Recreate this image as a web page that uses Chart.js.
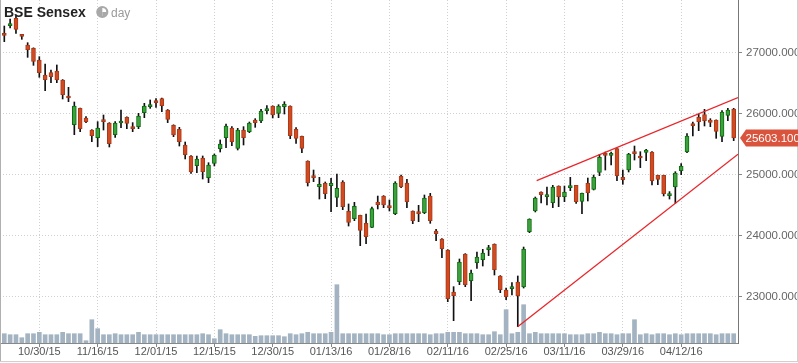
<!DOCTYPE html>
<html><head><meta charset="utf-8">
<script src="https://cdn.jsdelivr.net/npm/chart.js@4.4.1/dist/chart.umd.min.js"></script>
<style>html,body{margin:0;padding:0;background:#fff;overflow:hidden}canvas{display:block}</style>
</head><body>
<canvas id="c" width="798" height="363"></canvas>
<script>
const titleText = 'BSE Sensex';
const periodText = 'day';
const opens = [27306,27443,27563,27290,27126,27072,26881,26635,26673,26700,26553,26291,25822,26089,25931,25734,25609,25904,25849,25658,
25849,25942,25789,25789,26018,26116,26209,26247,26062,25811,25745,25489,25309,25150,25276,24954,25188,25429,25609,25767,
25434,25734,25707,25898,25882,26051,26127,26007,26116,26127,25745,25631,25227,24981,24806,24861,24823,24632,24883,24403,
24282,24337,24206,24141,24555,24653,24490,24364,24981,24866,24408,24397,24381,24653,24080,23949,23769,23082,23251,23704,
23267,23562,23611,23775,23862,23344,23114,23136,23245,23164,24070,24408,24719,24643,24544,24817,24643,24790,24828,24566,
24861,24763,25041,25347,25319,25429,24959,25079,25374,25303,25369,25374,24992,24992,24659,24801,25068,25374,25838,25942,
25985,25898,25898,25631,25974,26078];
const highs = [27437,27552,27601,27300,27164,27080,26935,26815,26717,26799,26560,26433,26193,26095,25953,25740,25871,25980,25855,25871,
26062,25950,25855,26007,26171,26226,26247,26258,26070,25820,25778,25538,25315,25309,25309,25199,25341,25571,25832,25789,
25762,25789,25865,25920,26073,26133,26130,26149,26198,26130,25772,25635,25230,25079,24959,24883,24943,25014,24905,24523,
24550,24340,24359,24473,24653,24660,24588,24888,24997,24926,24410,24501,24670,24697,24108,23955,23775,23169,23622,23710,
23442,23737,23780,23846,23870,23350,23147,23235,23344,23818,24280,24637,24720,24801,24828,24820,24817,24959,24830,24700,
24948,24997,25336,25374,25374,25432,25079,25352,25472,25379,25418,25380,24995,24995,24725,25052,25183,25674,25865,25996,
26073,25920,25900,26051,26089,26089];
const lows = [27181,27405,27317,27219,26924,26793,26597,26378,26509,26509,26242,26198,25658,25707,25855,25543,25462,25734,25456,25614,
25773,25756,25707,25756,25936,26089,26105,26035,25855,25625,25472,25260,25025,25036,24932,24872,25145,25374,25445,25478,
25407,25489,25691,25778,25854,25996,25931,25936,25996,25592,25516,25363,24817,24888,24604,24610,24397,24479,24430,24162,
24250,23840,23873,24135,24441,24462,24408,24348,24790,24462,24200,24233,24364,24206,23922,23644,22923,22612,23202,23169,
22940,23469,23507,23677,23360,23071,22956,23032,22514,23147,24053,24392,24539,24506,24463,24479,24561,24741,24534,24364,
24572,24752,24986,25079,25161,24905,24845,25047,25243,25118,25232,24834,24839,24654,24604,24534,25003,25363,25636,25723,
25800,25789,25598,25543,25887,25560];
const closes = [27285,27470,27383,27268,27050,26859,26673,26559,26608,26553,26313,26258,26127,25756,25871,25642,25767,25871,25511,25849,
25882,25844,25756,25964,26127,26144,26182,26133,25909,25653,25543,25331,25047,25259,25052,25161,25319,25505,25800,25543,
25734,25609,25849,25854,26045,26078,25980,26127,26155,25641,25598,25434,24872,24954,24844,24692,24861,24779,24479,24222,
24484,24091,23988,24446,24512,24506,24462,24866,24801,24561,24250,24364,24621,24250,24037,23791,22972,23022,23573,23202,
23393,23655,23720,23802,23447,23120,23005,23164,23022,23786,24277,24621,24675,24670,24801,24643,24719,24817,24561,24697,
24708,24959,25287,25319,25347,24986,24921,25341,25347,25276,25407,24905,24926,24692,24686,25030,25145,25636,25805,25871,
25887,25860,25712,26029,26062,25603.1];
const volumes = [93,83,83,53,93,93,107,83,83,83,107,93,93,93,23,233,143,83,83,93,
83,83,83,107,83,83,83,83,83,83,83,83,83,83,93,83,43,133,93,83,
83,83,83,67,73,73,73,73,63,93,83,93,107,93,93,93,107,583,93,93,
93,93,93,93,93,83,83,93,93,93,93,93,93,83,93,93,107,107,107,93,
93,93,83,83,113,83,333,93,107,383,93,107,93,93,93,93,93,83,83,83,
93,93,107,93,93,83,93,93,233,83,93,83,93,93,83,93,83,93,93,93,
93,93,83,93,93,93];
const tickIndex = [6,16,26,36,46,56,66,76,86,96,106,116];
const tickLabels = ['10/30/15','11/16/15','12/01/15','12/15/15','12/30/15','01/13/16','01/28/16','02/11/16','02/25/16','03/11/16','03/29/16','04/12/16'];
const priceTicks = [23000,24000,25000,26000,27000];
const upperTrend = [[91.24,24905],[125.74,26266]];
const lowerTrend = [[87.98,22514],[125.74,25337]];
const lastClose = 25603.1;

const FONT = 'Arial, "Liberation Sans", sans-serif';
const GREEN_FILL = '#3ca23c', GREEN_LINE = '#0d6b10', RED_FILL = '#d24b20', RED_LINE = '#a8391a';
const idx = opens.map((_, i) => i);
const isUp = i => closes[i] >= opens[i];

const overlay = {
  id: 'overlay',
  afterDraw(chart) {
    const c = chart.ctx;
    c.save();
    c.lineWidth = 1;
    c.strokeStyle = '#b0b0b0';
    c.beginPath(); c.moveTo(0.5, 0); c.lineTo(0.5, 362); c.stroke();
    c.strokeStyle = '#d0d0d0';
    c.beginPath(); c.moveTo(0, 361.5); c.lineTo(798, 361.5); c.moveTo(797.5, 0); c.lineTo(797.5, 362); c.stroke();
    c.fillStyle = '#222';
    c.font = 'bold 14px ' + FONT;
    c.textAlign = 'left'; c.textBaseline = 'alphabetic';
    c.fillText(titleText, 4, 17);
    c.strokeStyle = '#a8a8a8'; c.lineWidth = 2.2;
    c.beginPath(); c.arc(102.3, 12, 5, 0, Math.PI * 2); c.stroke();
    c.fillStyle = '#a8a8a8';
    c.beginPath(); c.moveTo(102.3, 12); c.arc(102.3, 12, 4.5, Math.PI / 2, -Math.PI / 2 + 0.0, false); c.closePath(); c.fill();
    c.beginPath(); c.moveTo(102.3, 12); c.arc(102.3, 12, 4.5, 0, Math.PI / 2, false); c.closePath(); c.fill();
    c.fillStyle = '#9a9a9a';
    c.font = '12px ' + FONT;
    c.fillText(periodText, 111, 17);
    const y = chart.scales.y.getPixelForValue(lastClose);
    c.fillStyle = '#d9533d';
    c.beginPath();
    c.moveTo(740, y); c.lineTo(746, y - 8.5); c.lineTo(798, y - 8.5); c.lineTo(798, y + 8.5); c.lineTo(746, y + 8.5);
    c.closePath(); c.fill();
    c.fillStyle = '#fff';
    c.font = '11.5px ' + FONT;
    c.textBaseline = 'middle';
    c.fillText(lastClose.toFixed(3), 745.5, y + 0.5);
    c.restore();
  }
};

new Chart(document.getElementById('c'), {
  type: 'bar',
  data: {
    datasets: [
      { type: 'line', data: upperTrend.map(p => ({x: p[0], y: p[1]})), yAxisID: 'y', borderColor: '#e8262b', borderWidth: 1.3, pointRadius: 0, order: 0 },
      { type: 'line', data: lowerTrend.map(p => ({x: p[0], y: p[1]})), yAxisID: 'y', borderColor: '#e8262b', borderWidth: 1.3, pointRadius: 0, order: 0 },
      { data: idx.map(i => ({x: i, y: [opens[i], closes[i]]})), yAxisID: 'y', grouped: false, barThickness: 4, minBarLength: 2,
        borderWidth: 1, borderSkipped: false,
        backgroundColor: ctx => isUp(ctx.dataIndex) ? GREEN_FILL : RED_FILL,
        borderColor: ctx => isUp(ctx.dataIndex) ? GREEN_LINE : RED_LINE, order: 1 },
      { data: idx.map(i => ({x: i, y: [lows[i], highs[i]]})), yAxisID: 'y', grouped: false, barThickness: 1,
        backgroundColor: '#111', borderWidth: 0, order: 2 },
      { data: idx.map(i => ({x: i, y: volumes[i]})), yAxisID: 'yv', grouped: false, barThickness: 4,
        backgroundColor: '#a3b3c1', borderWidth: 0, order: 3 }
    ]
  },
  options: {
    responsive: false, animation: false, devicePixelRatio: 1,
    layout: { padding: 0 },
    plugins: { legend: { display: false }, tooltip: { enabled: false }, title: { display: false } },
    scales: {
      x: {
        type: 'linear', position: 'bottom', min: -0.737, max: 125.74, offset: false,
        afterBuildTicks: s => { s.ticks = tickIndex.map(v => ({value: v})); },
        afterFit: s => { s.height = 20; s.paddingLeft = 0; s.paddingRight = 0; s.paddingTop = 0; s.paddingBottom = 0; },
        ticks: { autoSkip: false, maxRotation: 0, padding: -2, color: '#555', font: { family: FONT, size: 11 },
          callback: v => tickLabels[tickIndex.indexOf(v)] },
        grid: { offset: false, color: '#d0d0d0', lineWidth: 1, tickLength: 4, tickColor: '#888' },
        border: { display: true, color: '#888', width: 1, dash: [1, 2] }
      },
      y: {
        type: 'linear', position: 'right', min: 22246.5, max: 27863,
        afterBuildTicks: s => { s.ticks = priceTicks.map(v => ({value: v})); },
        afterFit: s => { s.width = 60; s.paddingLeft = 0; s.paddingRight = 0; s.paddingTop = 0; s.paddingBottom = 0; },
        ticks: { padding: 4, color: '#666', font: { family: FONT, size: 11.5 }, callback: v => Number(v).toFixed(3) },
        grid: { color: '#d0d0d0', lineWidth: 1, tickLength: 4, tickColor: '#888' },
        border: { display: true, color: '#777', width: 1, dash: [1, 2] }
      },
      yv: { type: 'linear', display: false, min: 0, max: 3430 }
    }
  },
  plugins: [overlay]
});
</script>
</body></html>
